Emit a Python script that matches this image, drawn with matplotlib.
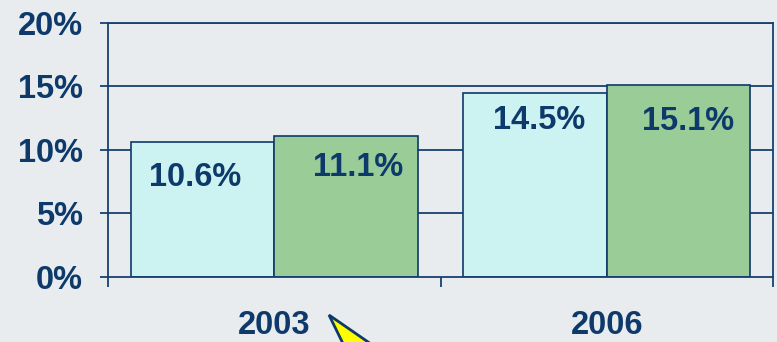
import numpy as np
import matplotlib.pyplot as plt
from matplotlib.patches import Polygon

# 数据
years = ['2003', '2006']
series_a = [10.6, 14.5]   # 浅青色
series_b = [11.1, 15.1]   # 绿色
y_ticks = [0, 5, 10, 15, 20]

navy = '#0D3A6B'
line_c = '#17406F'
bg = '#E9ECEF'
col_a = '#CCF2F1'
col_b = '#9ACC98'

plt.rcParams['font.family'] = ['Liberation Sans', 'DejaVu Sans']

fig = plt.figure(figsize=(7.77, 3.42), dpi=100, facecolor=bg)
ax = fig.add_axes([108 / 777, 1 - 277 / 342, 665 / 777, 254.3 / 342])
ax.set_facecolor(bg)

x = np.arange(len(years)) + 0.5
w = 0.432
bars_a = ax.bar(x - w / 2, series_a, w, color=col_a, edgecolor=navy, linewidth=1.2, zorder=3)
bars_b = ax.bar(x + w / 2, series_b, w, color=col_b, edgecolor=navy, linewidth=1.2, zorder=3)

# 数值标注（像素偏移）
offs_a = [(-7, -35), (4, -28)]
offs_b = [(12, -32), (9, -36)]
for bars, vals, offs in [(bars_a, series_a, offs_a), (bars_b, series_b, offs_b)]:
    for b, v, (dx, dy) in zip(bars, vals, offs):
        ax.annotate(f'{v:.1f}%', (b.get_x() + b.get_width() / 2, v),
                    xytext=(dx * 0.72, dy * 0.72), textcoords='offset points',
                    ha='center', va='center', fontsize=23.5, fontweight='bold',
                    color=navy, zorder=4)

ax.set_xlim(0, len(years))
ax.set_ylim(0, 20)

# 网格线
for t in y_ticks[1:]:
    ax.axhline(t, color=line_c, linewidth=1.3, zorder=1)

ax.set_yticks(y_ticks)
ax.set_yticklabels([f'{t}%' for t in y_ticks], fontsize=23.5, fontweight='bold', color=navy)
ax.tick_params(axis='y', length=6, width=1.3, color=line_c, pad=12)

ax.set_xticks(np.arange(len(years) + 1))
ax.set_xticklabels([])
ax.set_xticks(x, minor=True)
ax.set_xticklabels(years, minor=True, fontsize=23.5, fontweight='bold', color=navy)
ax.tick_params(axis='x', which='major', length=7.5, width=1.3, color=line_c)
ax.tick_params(axis='x', which='minor', length=0, pad=23.5)

for s in ['left', 'bottom', 'right', 'top']:
    ax.spines[s].set_color(line_c)
    ax.spines[s].set_linewidth(1.3)
    ax.spines[s].set_zorder(5)

# 黄色指示箭头
tip = (329, 315)
pts = [tip, (397, 362), (352, 362)]
arrow = Polygon([(px / 777, 1 - py / 342) for px, py in pts], closed=True,
                transform=fig.transFigure, facecolor='#FFFF00', edgecolor=navy,
                linewidth=2, joinstyle='miter', clip_on=False)
fig.patches.append(arrow)

fig.savefig('out.png', dpi=100, facecolor=bg)
